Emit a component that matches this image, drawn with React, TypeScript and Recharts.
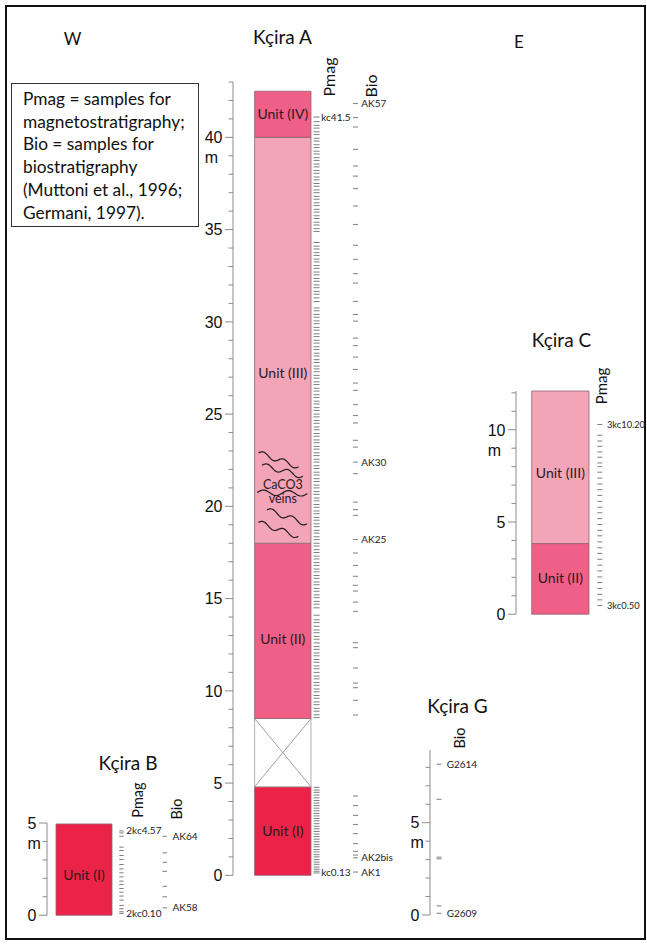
import React from 'react';
import { ComposedChart, XAxis, YAxis, ReferenceArea, ReferenceLine, Scatter } from 'recharts';

const PX_PER_M = 18.45;
const SANS = 'Lato, "Open Sans", sans-serif';
const NUM = '"Liberation Sans", Arial, sans-serif';

// ---- Kçira A ----
const A_UNITS = ['I', 'covered', 'II', 'III', 'IV'];
const A_BASES = [0, 4.8, 8.5, 18, 40];
const A_TOPS = [4.8, 8.5, 18, 40, 42.5];
const A_LABEL_DEPTHS = [2.4, NaN, 12.8, 27.2, 41.25];

const PMAG_A_LOWER = [
  0.13, 0.22, 0.33, 0.45, 0.6, 0.72, 0.85, 1.0, 1.12, 1.27, 1.4, 1.55, 1.68, 1.82, 1.96, 2.1, 2.24, 2.38,
  2.52, 2.66, 2.8, 2.95, 3.08, 3.22, 3.36, 3.5, 3.64, 3.78, 3.92, 4.06, 4.2, 4.35, 4.5, 4.62, 4.77,
];
const PMAG_A_UPPER = [
  8.55, 8.7, 8.9, 9.05, 9.25, 9.4, 9.6, 9.75, 9.95, 10.1, 10.3, 10.45, 10.65, 10.8, 11.0, 11.2, 11.35, 11.55,
  11.7, 11.9, 12.05, 12.25, 12.4, 12.6, 12.8, 12.95, 13.15, 13.3, 13.5, 13.7, 13.85, 14.1, 14.5, 14.7, 14.85,
  15.05, 15.2, 15.4, 15.55, 15.75, 15.9, 16.1, 16.25, 16.45, 16.6, 16.8, 16.95, 17.15, 17.3, 17.5, 17.65,
  17.85, 18.0, 18.2, 18.35, 18.55, 18.7, 18.9, 19.05, 19.25, 19.4, 19.6, 19.75, 19.95, 20.1, 20.3, 20.45,
  20.65, 20.8, 21.0, 21.15, 21.35, 21.5, 21.7, 21.85, 22.05, 22.2, 22.4, 22.55, 22.75, 22.9, 23.1, 23.25,
  23.45, 23.6, 23.8, 23.95, 24.15, 24.3, 24.5, 24.65, 24.85, 25.0, 25.2, 25.35, 25.55, 25.7, 25.9, 26.05,
  26.25, 26.4, 26.6, 26.75, 26.95, 27.1, 27.3, 27.45, 27.6, 27.8, 27.95, 28.15, 28.3, 28.5, 28.65, 28.85,
  29.0, 29.2, 29.35, 29.55, 29.7, 29.9, 30.05, 30.25, 30.4, 30.6, 30.75, 31.1, 31.3, 31.5, 31.65, 31.85,
  32.0, 32.2, 32.35, 32.55, 32.7, 32.9, 33.05, 33.25, 33.4, 33.6, 33.75, 33.95, 34.1, 34.3, 34.9, 35.05,
  35.25, 35.4, 35.6, 35.75, 35.95, 36.1, 36.3, 36.45, 36.65, 36.8, 37.0, 37.15, 37.35, 37.5, 37.7, 37.85,
  38.05, 38.2, 38.4, 38.55, 38.75, 38.9, 39.1, 39.25, 39.45, 39.6, 39.8, 39.95, 40.15, 40.3, 40.5, 40.65,
  40.85, 41.1,
];
const PMAG_A_LABELS = [
  { depth: 41.1, text: 'kc41.5' },
  { depth: 0.13, text: 'kc0.13' },
];
const BIO_A = [
  41.83, 41.07, 40.56, 39.35, 38.45, 37.9, 37.22, 36.28, 35.28, 34.15, 33.39, 32.61, 32.1, 31.11, 30.4,
  30.04, 29.12, 28.71, 28.09, 27.42, 26.68, 26.29, 25.51, 24.92, 24.52, 23.58, 23.21, 22.4, 21.77, 20.23,
  19.82, 19.51, 18.2, 17.47, 16.8, 16.21, 15.72, 15.41, 14.81, 14.31, 12.61, 12.34, 11.24, 10.42, 10.17,
  9.49, 8.69, 4.3, 3.78, 3.25, 2.76, 2.26, 1.72, 1.3, 1.1, 0.95, 0.18,
];
const BIO_A_LABELS = [
  { depth: 41.83, text: 'AK57' },
  { depth: 22.4, text: 'AK30' },
  { depth: 18.2, text: 'AK25' },
  { depth: 0.95, text: 'AK2bis' },
  { depth: 0.18, text: 'AK1' },
];
const VEIN_DEPTHS = [22.52, 21.93, 20.72, 19.43, 18.75];
const A_NOTES = [
  { depth: 21.2, text: 'CaCO3' },
  { depth: 20.4, text: 'veins' },
];

// ---- Kçira C ----
const C_UNITS = ['II', 'III'];
const C_BASES = [0, 3.83];
const C_TOPS = [3.83, 12.1];
const C_LABEL_DEPTHS = [1.97, 7.66];
const PMAG_C = [
  0.47, 0.78, 1.08, 1.4, 1.72, 2.02, 2.35, 2.66, 2.98, 3.3, 3.6, 3.92, 4.25, 4.55, 4.86, 5.18, 5.5, 5.8,
  6.12, 6.44, 6.75, 7.06, 7.38, 7.7, 8.0, 8.2, 8.51, 8.8, 9.1, 9.39, 9.7, 10.28,
];
const PMAG_C_LABELS = [
  { depth: 10.28, text: '3kc10.20' },
  { depth: 0.47, text: '3kc0.50' },
];

// ---- Kçira B ----
const B_UNITS = ['I'];
const B_BASES = [0];
const B_TOPS = [4.95];
const B_LABEL_DEPTHS = [2.15];
const PMAG_B = [
  0.1, 0.19, 0.35, 0.53, 0.82, 1.04, 1.25, 1.45, 1.67, 1.85, 2.08, 2.3, 2.51, 2.75, 3.02, 3.24, 3.51, 3.69,
  4.28, 4.46, 4.57,
];
const PMAG_B_LABELS = [
  { depth: 4.57, text: '2kc4.57' },
  { depth: 0.1, text: '2kc0.10' },
];
const BIO_B = [4.28, 3.38, 2.87, 2.38, 1.57, 1.0, 0.4];
const BIO_B_LABELS = [
  { depth: 4.28, text: 'AK64' },
  { depth: 0.4, text: 'AK58' },
];

// ---- Kçira G ----
const BIO_G = [8.17, 6.27, 3.13, 3.04, 0.49, 0.09];
const BIO_G_LABELS = [
  { depth: 8.17, text: 'G2614' },
  { depth: 0.09, text: 'G2609' },
];

const LEGEND_LINES = [
  'Pmag = samples for',
  'magnetostratigraphy;',
  'Bio = samples for',
  'biostratigraphy',
  '(Muttoni et al., 1996;',
  'Germani, 1997).',
];

const UNIT_FILL: Record<string, string> = {
  I: '#ec2349',
  II: '#ef5f86',
  III: '#f4a4b7',
  IV: '#ef5f86',
  covered: '#ffffff',
};

// vein look: x centre (px from axis), length, drop
const VEIN_STYLE = [
  { x: 45.6, len: 40, drop: 14 },
  { x: 49.5, len: 41, drop: 11 },
  { x: 49.3, len: 50, drop: 1 },
  { x: 54, len: 40, drop: 14 },
  { x: 45.3, len: 40, drop: 14 },
];

const range = (n: number) => Array.from({ length: n + 1 }, (_, i) => i);

const AxisTick = (p: any) => {
  const { x, y, payload, majors, unitTick } = p;
  const v = payload.value;
  const major = majors.includes(v);
  const len = major ? 8 : 4.5;
  const right = x - len - 2.5;
  const w = String(v).length * 8.9;
  return (
    <g>
      <line x1={x - len} x2={x} y1={y} y2={y} stroke="#8c8c8c" strokeWidth={1} />
      {major && (
        <text x={right} y={y} dy="0.36em" textAnchor="end" fontSize={16} fontFamily={NUM} fill="#111">
          {v}
        </text>
      )}
      {v === unitTick && (
        <text x={right - w} y={y + 20} dy="0.36em" textAnchor="start" fontSize={16} fontFamily={NUM} fill="#111">
          m
        </text>
      )}
    </g>
  );
};

const dash = (half: number) => (p: any) => (
  <line x1={p.cx - half} x2={p.cx + half} y1={p.cy} y2={p.cy} stroke="#7d7d7d" strokeWidth={1} />
);

const label = (size: number, color: string, anchor: string) => (p: any) => (
  <text x={p.cx} y={p.cy} dy="0.35em" textAnchor={anchor} fontSize={size} fontFamily={SANS} fill={color}>
    {p.payload.text}
  </text>
);

const veinShape = (p: any) => {
  const s = VEIN_STYLE[p.payload.i];
  let d = '';
  for (let k = 0; k <= 40; k++) {
    const t = k / 40;
    const bx = p.cx - s.len / 2 + s.len * t;
    const by = p.cy - s.drop / 2 + s.drop * t - 2.6 * Math.sin(t * 4 * Math.PI);
    d += (k ? 'L' : 'M') + bx.toFixed(1) + ',' + by.toFixed(1);
  }
  return <path d={d} fill="none" stroke="#1b1b1b" strokeWidth={1.2} />;
};

type Track = {
  depths: number[];
  labels: { depth: number; text: string }[];
  center: number;
  half: number;
  labelX: number;
  fontSize?: number;
};

interface SectionProps {
  axisX: number;
  zeroY: number;
  top: number;
  span: number;
  gutter: number;
  ticks: number[];
  majors: number[];
  unitTick: number;
  column?: [number, number];
  units?: string[];
  bases?: number[];
  tops?: number[];
  labelDepths?: number[];
  tracks: Track[];
  veins?: number[];
  notes?: { depth: number; text: string }[];
}

const Section: React.FC<SectionProps> = (props) => {
  const { axisX, zeroY, top, span, gutter, ticks, majors, unitTick, column, units = [], bases = [], tops = [], labelDepths = [], tracks, veins, notes } = props;
  const mt = 24;
  const mb = 24;
  const mr = 30;
  const plotH = top * PX_PER_M;
  const mid = column ? (column[0] + column[1]) / 2 : 0;
  const unitLabels = units
    .map((u, i) => ({ x: mid, y: labelDepths[i], text: `Unit (${u})` }))
    .filter((d) => !isNaN(d.y));

  return (
    <div style={{ position: 'absolute', left: axisX - gutter, top: zeroY - plotH - mt }}>
      <ComposedChart width={gutter + span + mr} height={plotH + mt + mb} margin={{ top: mt, right: mr, bottom: mb, left: 0 }}>
        <XAxis type="number" dataKey="x" domain={[0, span]} hide />
        <YAxis
          type="number"
          dataKey="y"
          domain={[0, top]}
          ticks={ticks}
          interval={0}
          width={gutter}
          tickSize={0}
          tickMargin={0}
          tickLine={false}
          axisLine={{ stroke: '#8c8c8c', strokeWidth: 1 }}
          tick={(p: any) => <AxisTick {...p} majors={majors} unitTick={unitTick} />}
        />
        {column &&
          units.map((u, i) => (
            <ReferenceArea
              key={u + i}
              x1={column[0]}
              x2={column[1]}
              y1={bases[i]}
              y2={tops[i]}
              fill={UNIT_FILL[u]}
              fillOpacity={1}
              stroke={u === 'covered' ? '#9a9a9a' : '#8d6570'}
              strokeWidth={0.8}
            />
          ))}
        {column &&
          units.map((u, i) =>
            u === 'covered' ? (
              <ReferenceLine key={'c1' + i} segment={[{ x: column[0], y: bases[i] }, { x: column[1], y: tops[i] }]} stroke="#8a8a8a" strokeWidth={0.8} />
            ) : null
          )}
        {column &&
          units.map((u, i) =>
            u === 'covered' ? (
              <ReferenceLine key={'c2' + i} segment={[{ x: column[0], y: tops[i] }, { x: column[1], y: bases[i] }]} stroke="#8a8a8a" strokeWidth={0.8} />
            ) : null
          )}
        {veins && (
          <Scatter data={veins.map((d, i) => ({ x: VEIN_STYLE[i].x, y: d, i }))} shape={veinShape} isAnimationActive={false} />
        )}
        {notes && (
          <Scatter data={notes.map((n) => ({ x: mid, y: n.depth, text: n.text }))} shape={label(12.5, '#2a1a1f', 'middle')} isAnimationActive={false} />
        )}
        {unitLabels.length > 0 && <Scatter data={unitLabels} shape={label(14, '#2a1a1f', 'middle')} isAnimationActive={false} />}
        {tracks.map((t, k) => (
          <Scatter key={'t' + k} data={t.depths.map((d) => ({ x: t.center, y: d }))} shape={dash(t.half)} isAnimationActive={false} />
        ))}
        {tracks.map((t, k) => (
          <Scatter
            key={'l' + k}
            data={t.labels.map((l) => ({ x: t.labelX, y: l.depth, text: l.text }))}
            shape={label(t.fontSize ?? 10, '#222', 'start')}
            isAnimationActive={false}
          />
        ))}
      </ComposedChart>
    </div>
  );
};

const Title = ({ x, y, size, children }: { x: number; y: number; size: number; children: React.ReactNode }) => (
  <text x={x} y={y} dy="0.35em" textAnchor="middle" fontSize={size} fontFamily={SANS} fill="#111">
    {children}
  </text>
);

const Vertical = ({ x, y, size, children }: { x: number; y: number; size: number; children: React.ReactNode }) => (
  <text transform={`translate(${x},${y}) rotate(-90)`} dy="0.35em" textAnchor="middle" fontSize={size} fontFamily={SANS} fill="#111">
    {children}
  </text>
);

export default function App() {
  return (
    <div style={{ position: 'absolute', left: 0, top: 0, width: 647, height: 945, background: '#fff', overflow: 'hidden' }}>
      <div style={{ position: 'absolute', left: 5, top: 5, width: 641, height: 935, border: '2px solid #111', boxSizing: 'border-box' }} />

      <Section
        axisX={232.7}
        zeroY={875}
        top={43}
        span={170}
        gutter={60}
        ticks={range(43)}
        majors={[0, 5, 10, 15, 20, 25, 30, 35, 40]}
        unitTick={40}
        column={[21.6, 78]}
        units={A_UNITS}
        bases={A_BASES}
        tops={A_TOPS}
        labelDepths={A_LABEL_DEPTHS}
        veins={VEIN_DEPTHS}
        notes={A_NOTES}
        tracks={[
          { depths: [...PMAG_A_LOWER, ...PMAG_A_UPPER], labels: PMAG_A_LABELS, center: 83.6, half: 3, labelX: 88.3 },
          { depths: BIO_A, labels: BIO_A_LABELS, center: 122.5, half: 2.5, labelX: 128.3 },
        ]}
      />

      <Section
        axisX={516}
        zeroY={614}
        top={12.1}
        span={125}
        gutter={40}
        ticks={range(12)}
        majors={[0, 5, 10]}
        unitTick={10}
        column={[15.7, 73]}
        units={C_UNITS}
        bases={C_BASES}
        tops={C_TOPS}
        labelDepths={C_LABEL_DEPTHS}
        tracks={[{ depths: PMAG_C, labels: PMAG_C_LABELS, center: 83.8, half: 2.5, labelX: 91, fontSize: 9.3 }]}
      />

      <Section
        axisX={46.7}
        zeroY={915.7}
        top={5}
        span={150}
        gutter={30}
        ticks={range(5)}
        majors={[0, 5]}
        unitTick={5}
        column={[9, 65]}
        units={B_UNITS}
        bases={B_BASES}
        tops={B_TOPS}
        labelDepths={B_LABEL_DEPTHS}
        tracks={[
          { depths: PMAG_B, labels: PMAG_B_LABELS, center: 74.5, half: 2.2, labelX: 79.3 },
          { depths: BIO_B, labels: BIO_B_LABELS, center: 117.8, half: 2.2, labelX: 125.6 },
        ]}
      />

      <Section
        axisX={430}
        zeroY={915}
        top={8.94}
        span={80}
        gutter={30}
        ticks={range(8)}
        majors={[0, 5]}
        unitTick={5}
        tracks={[{ depths: BIO_G, labels: BIO_G_LABELS, center: 9, half: 2.5, labelX: 16.7 }]}
      />

      <svg width={647} height={945} style={{ position: 'absolute', left: 0, top: 0, pointerEvents: 'none' }}>
        <Title x={72.5} y={39} size={17}>W</Title>
        <Title x={519} y={42} size={17}>E</Title>
        <Title x={282.5} y={37} size={19}>Kçira A</Title>
        <Title x={561.5} y={340} size={19}>Kçira C</Title>
        <Title x={128} y={763} size={19}>Kçira B</Title>
        <Title x={457.5} y={706.5} size={19}>Kçira G</Title>
        <Vertical x={329} y={77} size={16}>Pmag</Vertical>
        <Vertical x={371} y={86} size={16}>Bio</Vertical>
        <Vertical x={602} y={386} size={15}>Pmag</Vertical>
        <Vertical x={138} y={800} size={14.5}>Pmag</Vertical>
        <Vertical x={177} y={809} size={14.5}>Bio</Vertical>
        <Vertical x={460} y={738} size={14.5}>Bio</Vertical>
      </svg>

      <div
        style={{
          position: 'absolute',
          left: 11,
          top: 83,
          width: 188,
          height: 144,
          border: '1.5px solid #333',
          boxSizing: 'border-box',
          padding: '4px 0 0 11px',
          fontFamily: SANS,
          fontSize: 17.3,
          lineHeight: '22.7px',
          color: '#111',
          whiteSpace: 'nowrap',
        }}
      >
        {LEGEND_LINES.map((l) => (
          <div key={l}>{l}</div>
        ))}
      </div>
    </div>
  );
}
